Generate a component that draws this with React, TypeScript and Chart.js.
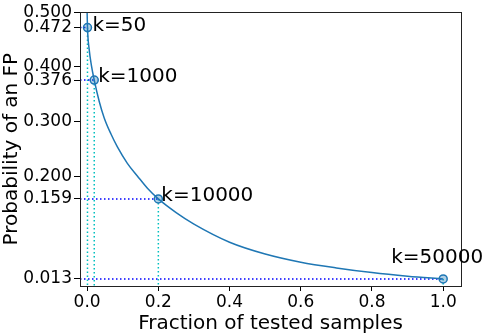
import React, { useEffect, useRef } from "react";
import { Chart, registerables } from "chart.js";

Chart.register(...registerables);

// ---- data ----
const CURVE_F = [0, 0.001, 0.0056, 0.012, 0.02, 0.034, 0.048, 0.067, 0.085, 0.113, 0.141, 0.17, 0.2, 0.25, 0.3, 0.4, 0.5, 0.6, 0.7, 0.8, 0.9, 1.0];
const CURVE_P = [0.5, 0.472, 0.433, 0.403, 0.376, 0.337, 0.307, 0.2775, 0.254, 0.224, 0.201, 0.178, 0.159, 0.134, 0.113, 0.08, 0.0585, 0.0435, 0.033, 0.0245, 0.018, 0.013];

const K_LABELS = ["50", "1000", "10000", "50000"];
const K_F = [0.001, 0.02, 0.2, 1.0];
const K_P = [0.472, 0.376, 0.159, 0.013];

const X_TICKS = [0, 0.2, 0.4, 0.6, 0.8, 1.0];
const Y_TICKS = [0.013, 0.159, 0.2, 0.3, 0.376, 0.4, 0.472, 0.5];

const X_MIN = -0.02;
const X_MAX = 1.05;
const Y_MIN = 0;
const Y_MAX = 0.5;

const FONT = "'DejaVu Sans', sans-serif";
const LABEL_OFFSETS = [
  [5, 3],
  [4, 2],
  [3, 2],
  [-52, -16],
];

export default function App() {
  const ref = useRef<HTMLCanvasElement | null>(null);

  useEffect(() => {
    if (!ref.current) return;
    const guidesH = K_F.map((f, i) => ({
      type: "scatter" as const,
      data: [
        { x: X_MIN, y: K_P[i] },
        { x: f, y: K_P[i] },
      ],
      showLine: true,
      borderColor: "#0000ff",
      borderWidth: 1.5,
      borderDash: [1.5, 2.5],
      pointRadius: 0,
      order: 3,
    }));
    const guidesV = K_F.map((f, i) => ({
      type: "scatter" as const,
      data: [
        { x: f, y: K_P[i] },
        { x: f, y: Y_MIN },
      ],
      showLine: true,
      borderColor: "#00bfbf",
      borderWidth: 1.5,
      borderDash: [1.5, 2.5],
      pointRadius: 0,
      order: 3,
    }));

    const framePlugin = {
      id: "frame",
      afterDatasetsDraw(chart: any) {
        const { ctx, chartArea, scales } = chart;
        ctx.save();
        ctx.strokeStyle = "#222";
        ctx.lineWidth = 1;
        ctx.strokeRect(
          Math.round(chartArea.left) + 0.5,
          Math.round(chartArea.top) + 0.5,
          Math.round(chartArea.right - chartArea.left),
          Math.round(chartArea.bottom - chartArea.top)
        );
        ctx.fillStyle = "#000";
        ctx.font = `20px ${FONT}`;
        ctx.textAlign = "left";
        ctx.textBaseline = "alphabetic";
        K_LABELS.forEach((lab, i) => {
          const px = scales.x.getPixelForValue(K_F[i]);
          const py = scales.y.getPixelForValue(K_P[i]);
          ctx.fillText(`k=${lab}`, px + LABEL_OFFSETS[i][0], py + LABEL_OFFSETS[i][1]);
        });
        ctx.restore();
      },
    };

    const chart = new Chart(ref.current, {
      type: "scatter",
      data: {
        datasets: [
          {
            data: K_F.map((f, i) => ({ x: f, y: K_P[i] })),
            pointRadius: 4,
            pointBackgroundColor: "rgba(31,119,180,0.35)",
            pointBorderColor: "#1f77b4",
            pointBorderWidth: 1.5,
            order: 0,
          },
          {
            data: CURVE_F.map((f, i) => ({ x: f, y: CURVE_P[i] })),
            showLine: true,
            borderColor: "#1f77b4",
            borderWidth: 1.5,
            pointRadius: 0,
            cubicInterpolationMode: "monotone",
            order: 1,
          } as any,
          ...guidesH,
          ...guidesV,
        ],
      },
      options: {
        animation: false,
        responsive: false,
        maintainAspectRatio: false,
        events: [],
        layout: { padding: { left: 0, top: 6, right: 23, bottom: 0 } },
        plugins: { legend: { display: false }, tooltip: { enabled: false } },
        scales: {
          x: {
            type: "linear",
            min: X_MIN,
            max: X_MAX,
            afterBuildTicks: (s: any) => {
              s.ticks = X_TICKS.map((v) => ({ value: v }));
            },
            afterFit: (s: any) => {
              s.height = 50;
            },
            ticks: {
              color: "#000",
              font: { family: FONT, size: 17 },
              padding: 1,
              callback: (v: any) => Number(v).toFixed(1),
              maxRotation: 0,
            },
            grid: { drawOnChartArea: false, drawTicks: true, tickLength: 5, color: "#000" },
            border: { display: false },
            title: {
              display: true,
              text: "Fraction of tested samples",
              color: "#000",
              font: { family: FONT, size: 20 },
              padding: { top: 0, bottom: 0 },
            },
          },
          y: {
            type: "linear",
            min: Y_MIN,
            max: Y_MAX,
            afterBuildTicks: (s: any) => {
              s.ticks = Y_TICKS.map((v) => ({ value: v }));
            },
            afterFit: (s: any) => {
              s.width = 80;
            },
            ticks: {
              color: "#000",
              font: { family: FONT, size: 17 },
              padding: 2,
              callback: (v: any) => Number(v).toFixed(3),
            },
            grid: { drawOnChartArea: false, drawTicks: true, tickLength: 6, color: "#000" },
            border: { display: false },
            title: {
              display: true,
              text: "Probability of an FP",
              color: "#000",
              font: { family: FONT, size: 20 },
              padding: { top: 0, bottom: 0 },
            },
          },
        },
      },
      plugins: [framePlugin],
    });
    return () => chart.destroy();
  }, []);

  return (
    <div style={{ position: "absolute", left: 0, top: 0, width: 484, height: 336, background: "#fff" }}>
      <canvas ref={ref} width={484} height={336} style={{ width: 484, height: 336, display: "block" }} />
    </div>
  );
}
